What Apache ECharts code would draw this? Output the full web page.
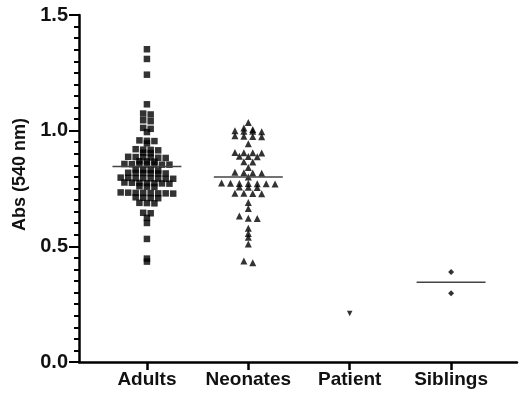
<!DOCTYPE html>
<html>
<head>
<meta charset="utf-8">
<script src="https://cdn.jsdelivr.net/npm/echarts@6/dist/echarts.min.js"></script>
<style>
  html, body { margin: 0; padding: 0; background: #fff; }
  #main { width: 519px; height: 398px; }
</style>
</head>
<body>
<div id="main"></div>
<script>
// groups on the x axis
var groups = ['Adults', 'Neonates', 'Patient', 'Siblings'];

// absorbance values
var adults = [
  1.352, 1.31, 1.242, 1.114,
  1.074, 1.07,
  1.045, 1.041,
  1.012, 1.008,
  0.994,
  0.958, 0.956, 0.955,
  0.945,
  0.92, 0.918, 0.917, 0.915,
  0.905, 0.903,
  0.887, 0.886, 0.885, 0.884, 0.883, 0.882,
  0.868, 0.867, 0.866,
  0.856, 0.855, 0.855, 0.854, 0.854, 0.853, 0.853,
  0.832, 0.83, 0.83, 0.828,
  0.818, 0.817, 0.817, 0.816, 0.815, 0.815,
  0.797, 0.796, 0.795, 0.795, 0.794, 0.793, 0.792, 0.792,
  0.776, 0.775, 0.774, 0.773, 0.773, 0.772, 0.771,
  0.76, 0.758, 0.757,
  0.733, 0.732, 0.731, 0.731, 0.73, 0.729, 0.729, 0.728,
  0.712, 0.71, 0.709, 0.708,
  0.688, 0.687, 0.686,
  0.645, 0.643,
  0.623,
  0.601,
  0.532, 0.447, 0.434
];
var neonates = [
  1.035,
  1.012, 1.005, 1.0, 0.998, 0.997, 0.995,
  0.978, 0.976, 0.975, 0.974,
  0.943,
  0.906, 0.905, 0.904, 0.903,
  0.889, 0.888, 0.887,
  0.866, 0.865,
  0.841,
  0.82, 0.818, 0.817, 0.816,
  0.8,
  0.774, 0.773, 0.772, 0.772, 0.771, 0.77, 0.769,
  0.756, 0.755, 0.754,
  0.73, 0.729, 0.728, 0.727,
  0.689,
  0.664,
  0.631,
  0.621, 0.62,
  0.578,
  0.556,
  0.539,
  0.51,
  0.437, 0.429
];
var patient = [0.21];
var siblings = [0.389, 0.297];

// median lines as drawn (none for the single patient)
var medians = [0.845, 0.80, null, 0.345];

// y axis ticks
var yMin = 0, yMax = 1.5, yStep = 0.5;

// spread points of a row side by side, like a dot plot
function swarm(vals, center, step, tol) {
  var sorted = vals.slice().sort(function (a, b) { return b - a; });
  var out = [], bin = [];
  function flush() {
    bin.forEach(function (v, i) {
      out.push([center + (i - (bin.length - 1) / 2) * step, v]);
    });
    bin = [];
  }
  sorted.forEach(function (v) {
    if (bin.length && bin[0] - v > tol) flush();
    bin.push(v);
  });
  flush();
  return out;
}

var chart = echarts.init(document.getElementById('main'));

var font = 'Liberation Sans, Arial, sans-serif';
var series = [
  { type: 'scatter', symbol: 'rect', symbolSize: 6.5, data: swarm(adults, 0, 0.074, 0.012) },
  { type: 'scatter', symbol: 'triangle', symbolSize: 7, data: swarm(neonates, 1, 0.088, 0.012) },
  { type: 'scatter', symbol: 'triangle', symbolRotate: 180, symbolSize: 5.5, data: swarm(patient, 2, 0.08, 0.012) },
  { type: 'scatter', symbol: 'diamond', symbolSize: 6, data: swarm(siblings, 3, 0.08, 0.012) }
];
series.forEach(function (s) {
  s.itemStyle = { color: '#000' };
  s.z = 3;
});
// median line over the dots
medians.forEach(function (m, i) {
  if (m == null) return;
  series.push({
    type: 'line', symbol: 'none', silent: true, z: 4,
    lineStyle: { color: '#444', width: 1.5 },
    data: [[i - 0.34, m], [i + 0.34, m]]
  });
});

var option = {
  animation: false,
  grid: { left: 79, right: 2, top: 15, bottom: 36, outerBoundsMode: 'none' },
  xAxis: {
    type: 'value', min: -0.67, max: 3.65,
    axisLine: { onZero: false, lineStyle: { color: '#000', width: 2.5 } },
    axisTick: { show: true, customValues: [0, 1, 2, 3], length: 8, lineStyle: { color: '#000', width: 2.5 } },
    axisLabel: {
      customValues: [0, 1, 2, 3],
      formatter: function (v) { return groups[Math.round(v)]; },
      color: '#111', fontFamily: font, fontWeight: 'bold', fontSize: 19, margin: 8
    },
    splitLine: { show: false }
  },
  yAxis: {
    type: 'value', min: yMin, max: yMax, interval: yStep,
    name: 'Abs (540 nm)', nameLocation: 'middle', nameGap: 46,
    nameTextStyle: { color: '#111', fontFamily: font, fontWeight: 'bold', fontSize: 18, padding: [0, 0, 0, 28] },
    axisLine: { show: true, onZero: false, lineStyle: { color: '#000', width: 2.5 } },
    axisTick: { show: true, length: 10, lineStyle: { color: '#000', width: 2 } },
    minorTick: { show: true, splitNumber: 10, length: 5, lineStyle: { color: '#000', width: 2 } },
    axisLabel: {
      formatter: function (v) { return v.toFixed(1); },
      color: '#111', fontFamily: font, fontWeight: 'bold', fontSize: 20, margin: 11
    },
    splitLine: { show: false }
  },
  series: series
};
chart.setOption(option);
</script>
</body>
</html>
